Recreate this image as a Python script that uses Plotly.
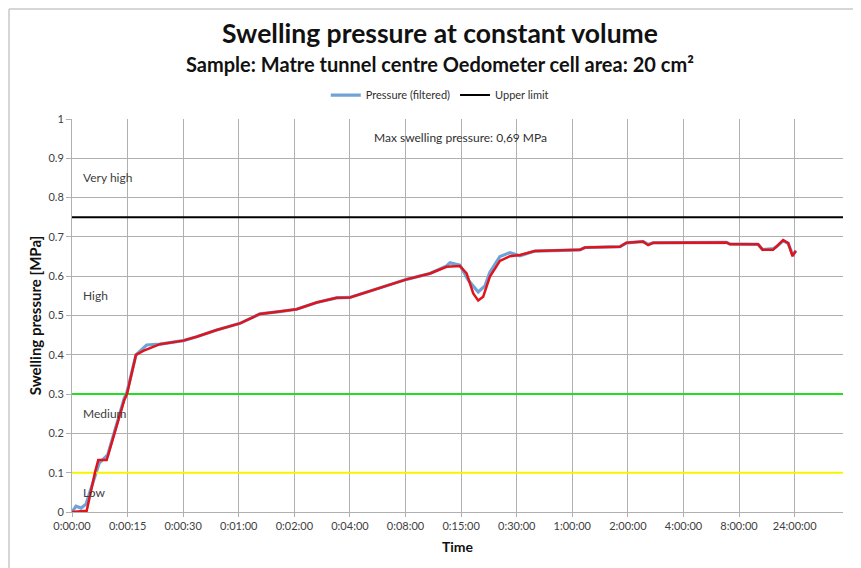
import plotly.graph_objects as go

# ---- data (x = position on the equally spaced time axis, y = MPa) ----
tick_labels = ["0:00:00", "0:00:15", "0:00:30", "0:01:00", "0:02:00", "0:04:00",
               "0:08:00", "0:15:00", "0:30:00", "1:00:00", "2:00:00", "4:00:00",
               "8:00:00", "24:00:00"]
tick_pos = list(range(len(tick_labels)))

red_x = [0, 0.264, 0.419, 0.473, 0.624, 0.941, 0.989, 1.151, 1.282, 1.403, 1.583,
         2.002, 2.243, 2.603, 3.022, 3.381, 3.741, 4.041, 4.401, 4.761, 5.0,
         6.020, 6.439, 6.739, 6.978, 7.099, 7.218, 7.307, 7.397, 7.518, 7.698,
         7.878, 8.058, 8.237, 8.327, 9.137, 9.227, 9.856, 9.977, 10.275, 10.365,
         10.455, 11.775, 11.835, 12.343, 12.423, 12.613, 12.793, 12.883, 12.962, 13.022]
red_y = [0, 0.003, 0.104, 0.132, 0.132, 0.285, 0.30, 0.40, 0.41, 0.417, 0.427,
         0.436, 0.446, 0.463, 0.48, 0.504, 0.51, 0.516, 0.533, 0.545, 0.546,
         0.592, 0.607, 0.624, 0.626, 0.607, 0.556, 0.538, 0.548, 0.599, 0.639,
         0.651, 0.654, 0.66, 0.664, 0.667, 0.673, 0.675, 0.685, 0.688, 0.679,
         0.685, 0.686, 0.681, 0.681, 0.667, 0.667, 0.692, 0.684, 0.651, 0.665]

blue_x = [0, 0.072, 0.162, 0.252, 0.491, 0.642, 0.941, 0.989, 1.151, 1.343, 1.583,
          2.002, 2.243, 2.603, 3.022, 3.381, 3.741, 4.041, 4.401, 4.761, 5.0,
          6.020, 6.439, 6.739, 6.799, 6.978, 7.128, 7.307, 7.428, 7.518, 7.698,
          7.878, 8.058, 8.237, 8.327, 9.137, 9.227, 9.856, 9.977, 10.275, 10.365,
          10.455, 11.775, 11.835, 12.343, 12.423, 12.613, 12.674, 12.793, 12.883,
          12.962, 13.022]
blue_y = [0, 0.015, 0.01, 0.02, 0.125, 0.145, 0.29, 0.305, 0.40, 0.425, 0.427,
          0.436, 0.446, 0.463, 0.48, 0.504, 0.51, 0.516, 0.533, 0.545, 0.546,
          0.592, 0.607, 0.626, 0.634, 0.628, 0.59, 0.56, 0.575, 0.61, 0.65,
          0.66, 0.652, 0.66, 0.664, 0.667, 0.673, 0.675, 0.685, 0.688, 0.681,
          0.685, 0.686, 0.682, 0.681, 0.668, 0.67, 0.675, 0.69, 0.684, 0.655, 0.663]

x_end = 13.87
upper_limit = 0.75
medium_limit = 0.3
low_limit = 0.1

zone_labels = ["Very high", "High", "Medium", "Low"]
zone_y = [0.85, 0.55, 0.25, 0.05]

FONT = "Lato, 'Open Sans', sans-serif"

fig = go.Figure()
fig.add_trace(go.Scatter(x=blue_x, y=blue_y, mode="lines", name="Pressure (filtered)",
                         line=dict(color="#6fa3d6", width=3.2)))
fig.add_trace(go.Scatter(x=[0, x_end], y=[upper_limit] * 2, mode="lines", name="Upper limit",
                         line=dict(color="#000000", width=2)))
fig.add_trace(go.Scatter(x=[0, x_end], y=[medium_limit] * 2, mode="lines", showlegend=False,
                         line=dict(color="#22dd22", width=2)))
fig.add_trace(go.Scatter(x=[0, x_end], y=[low_limit] * 2, mode="lines", showlegend=False,
                         line=dict(color="#f5f500", width=2)))
fig.add_trace(go.Scatter(x=red_x, y=red_y, mode="lines", showlegend=False,
                         line=dict(color="#e0141c", width=2.5)))

for lab, yv in zip(zone_labels, zone_y):
    fig.add_annotation(x=0.17, y=yv, text=lab, showarrow=False, xanchor="left",
                       font=dict(size=12, color="#404040", family=FONT))

fig.add_annotation(x=6.98, y=0.952, text="Max swelling pressure: 0,69 MPa", showarrow=False,
                   font=dict(size=12, color="#303030", family=FONT))

fig.add_annotation(xref="paper", yref="paper", x=0.477, y=1.219, yanchor="middle",
                   text="<b>Swelling pressure at constant volume</b>", showarrow=False,
                   font=dict(size=26.5, color="#111111", family=FONT))
fig.add_annotation(xref="paper", yref="paper", x=0.477, y=1.14, yanchor="middle",
                   text="<b>Sample: Matre tunnel centre Oedometer cell area: 20 cm²</b>",
                   showarrow=False, font=dict(size=20, color="#111111", family=FONT))

# outer frame (left and top)
fig.add_shape(type="line", xref="paper", yref="paper", x0=-0.0817, x1=-0.0817, y0=-0.2, y1=1.28,
              line=dict(color="#c8c8c8", width=1.5))
fig.add_shape(type="line", xref="paper", yref="paper", x0=-0.0817, x1=1.05, y0=1.28, y1=1.28,
              line=dict(color="#c8c8c8", width=1.5))

fig.update_layout(
    width=861, height=568,
    margin=dict(l=64, r=26, t=111, b=64),
    paper_bgcolor="white", plot_bgcolor="white",
    font=dict(family=FONT, color="#404040"),
    showlegend=True,
    legend=dict(orientation="h", x=0.477, xanchor="center", y=1.061, yanchor="middle",
                font=dict(size=11, color="#303030"), bgcolor="rgba(0,0,0,0)",
                itemwidth=30, tracegroupgap=0),
    xaxis=dict(range=[0, x_end], tickmode="array", tickvals=tick_pos, ticktext=tick_labels,
               showgrid=True, gridcolor="#b0b0b0", gridwidth=1, zeroline=False,
               showline=True, linecolor="#b0b0b0", ticks="outside", ticklen=4,
               tickcolor="#b0b0b0", tickfont=dict(size=11, color="#404040"),
               title=dict(text="<b>Time</b>", font=dict(size=14, color="#111111"), standoff=10)),
    yaxis=dict(range=[0, 1], tickmode="array", tickvals=[i / 10 for i in range(11)],
               ticktext=["0", "0.1", "0.2", "0.3", "0.4", "0.5", "0.6", "0.7", "0.8", "0.9", "1"],
               showgrid=True, gridcolor="#b0b0b0", gridwidth=1, zeroline=False,
               showline=True, linecolor="#b0b0b0", ticks="outside", ticklen=5,
               tickcolor="#b0b0b0", tickfont=dict(size=11, color="#404040"),
               title=dict(text="<b>Swelling pressure [MPa]</b>", font=dict(size=15, color="#111111"),
                          standoff=3)),
)

fig.write_html("out.html")
